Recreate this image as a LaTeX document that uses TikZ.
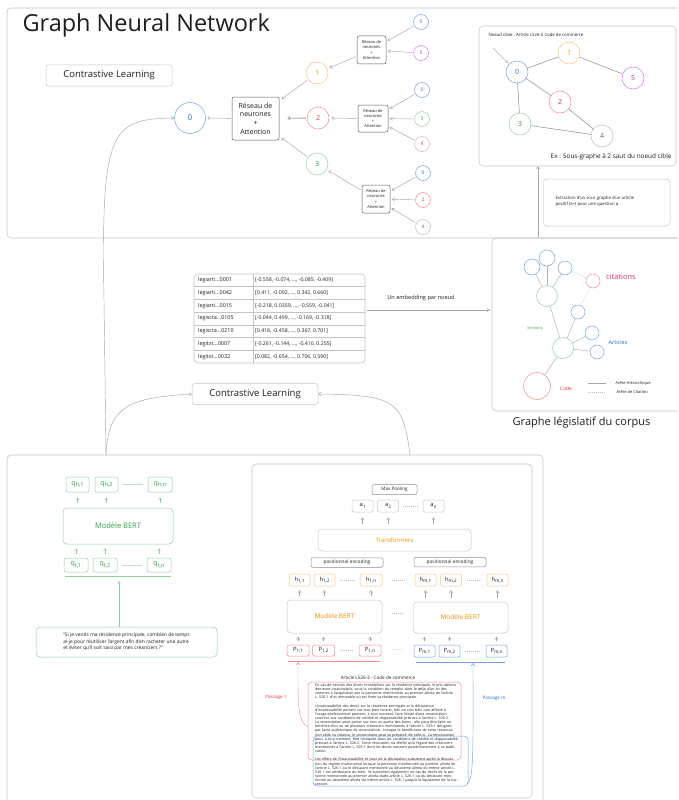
\documentclass[tikz,border=0pt]{standalone}
\usepackage{fontspec}
\usepackage{graphicx}
\setmainfont{Open Sans}
\usetikzlibrary{arrows.meta,calc}
\definecolor{cblue}{HTML}{1971C2}
\definecolor{cblueL}{HTML}{6FA3E0}
\definecolor{corange}{HTML}{F08C00}
\definecolor{corangeL}{HTML}{FFC078}
\definecolor{cred}{HTML}{E03131}
\definecolor{credL}{HTML}{F28B8B}
\definecolor{cgreen}{HTML}{2F9E44}
\definecolor{cgreenL}{HTML}{8FD19E}
\definecolor{cpurple}{HTML}{9C36B5}
\definecolor{cpurpleL}{HTML}{C77DDB}
\definecolor{cbrown}{HTML}{846358}
\definecolor{cbrownL}{HTML}{C9B5AE}
\definecolor{cpink}{HTML}{D6336C}
\definecolor{cpinkL}{HTML}{EC8CA8}
\definecolor{cgray}{HTML}{C4C4C4}
\definecolor{ctext}{HTML}{1E1E1E}
\newcommand{\lo}[1]{\raisebox{-0.45ex}{\scalebox{0.8}{#1}}}
\newcommand{\tabrow}[3]{%
 \node[anchor=west, font=\fontsize{5.4}{6}\selectfont, inner sep=0pt] (k#1) at (198,274+12.714*#1+6.357) {#2};
 \node[anchor=west, font=\fontsize{5.2}{6}\selectfont, inner sep=0pt] (v#1) at (255,274+12.714*#1+6.357) {#3};}
\begin{document}
\begin{tikzpicture}[x=1pt,y=-1pt,
  every node/.style={text=ctext},
  frame/.style={draw=cgray, line width=0.6pt, rounded corners=4pt},
  sbox/.style={draw=cgray, line width=0.5pt, rounded corners=2pt, inner sep=0pt},
  dbox/.style={draw=black!65, line width=0.5pt, rounded corners=2pt, inner sep=0pt, align=center},
  gbox/.style={draw=cgreenL, line width=0.5pt, rounded corners=2pt, inner sep=0pt, text=cgreen},
  obox/.style={draw=corangeL, line width=0.5pt, rounded corners=2pt, inner sep=0pt, minimum width=21, minimum height=12, font=\fontsize{5.8}{6}\selectfont},
  rbox/.style={draw=credL, line width=0.5pt, rounded corners=2pt, inner sep=0pt, minimum width=22, minimum height=11, font=\fontsize{5.8}{6}\selectfont},
  bbox/.style={draw=cblueL, line width=0.5pt, rounded corners=2pt, inner sep=0pt, minimum width=21, minimum height=12, font=\fontsize{5.8}{6}\selectfont},
  abox/.style={sbox, minimum width=21, minimum height=12, font=\fontsize{5.8}{6}\selectfont},
  circ/.style={circle, draw, line width=0.5pt, inner sep=0pt},
  arr/.style={draw=black!35, line width=0.45pt, -{Straight Barb[length=2.5pt,width=3.5pt]}},
  garr/.style={draw=cgreenL, line width=0.45pt, -{Straight Barb[length=2.2pt,width=3pt]}},
  link/.style={draw=black!45, line width=0.5pt},
  dotl/.style={draw=black!25, line width=0.4pt, dash pattern=on 1pt off 1pt},
]
\clip (0,0) rectangle (678,800);
% ================= TOP FRAME =================
\draw[frame] (7,8) rectangle (720,238);
\node[anchor=west, font=\fontsize{23.5}{26}\selectfont] (title) at (19,25) {Graph Neural Network};
\node[sbox, minimum width=126, minimum height=21, font=\fontsize{9.5}{11}\selectfont] (cl1) at (109,75.5) {Contrastive Learning};

\node[circ, draw=cblueL, text=cblue, minimum size=31, font=\fontsize{8}{9}\selectfont] (n0) at (190,118) {0};
\node[dbox, minimum width=47, minimum height=43, font=\fontsize{7}{8.6}\selectfont] (r0) at (255.5,118.5) {Réseau de\\neurones\\+\\Attention};
\node[circ, draw=corangeL, text=corange, minimum size=22, font=\fontsize{7}{8}\selectfont] (n1) at (317,73) {1};
\node[circ, draw=credL, text=cred, minimum size=22, font=\fontsize{7}{8}\selectfont] (n2) at (318,118) {2};
\node[circ, draw=cgreenL, text=cgreen, minimum size=22, font=\fontsize{7}{8}\selectfont] (n3) at (317,164) {3};

\node[dbox, minimum width=29, minimum height=28, font=\fontsize{4}{5.3}\selectfont] (rA) at (371.5,50) {Réseau de\\neurones\\+\\Attention};
\node[dbox, minimum width=30, minimum height=27, font=\fontsize{4}{5.3}\selectfont] (rB) at (373,118.5) {Réseau de\\neurones\\+\\Attention};
\node[dbox, minimum width=28, minimum height=28, font=\fontsize{4}{5.3}\selectfont] (rC) at (376,199) {Réseau de\\neurones\\+\\Attention};

\tikzset{ch/.style={circ, minimum size=15, font=\fontsize{5}{6}\selectfont}}
\node[ch, draw=cblueL, text=cblue] (a0) at (421,22) {0};
\node[ch, draw=cpurpleL, text=cpurple] (a5) at (421,53) {5};
\node[ch, draw=cblueL, text=cblue] (b0) at (422,90) {0};
\node[ch, draw=cgreenL, text=cgreen] (b3) at (422,119) {3};
\node[ch, draw=cbrownL, text=cbrown] (b4) at (422,144) {4};
\node[ch, draw=cblueL, text=cblue] (c0) at (423,173) {0};
\node[ch, draw=credL, text=cred] (c2) at (423,200) {2};
\node[ch, draw=cbrownL, text=cbrown] (c4) at (423,227) {4};

\draw[arr, shorten >=1.5pt, shorten <=1pt] (r0) -- (n0);
\draw[arr, shorten >=3pt, shorten <=1pt] (n1) -- (r0);
\draw[arr, shorten >=8pt, shorten <=1pt, line width=0.8pt] (n2) -- (r0);
\draw[arr, shorten >=3pt, shorten <=1pt] (n3) -- (r0);
\draw[arr, shorten >=2pt, shorten <=1pt] (rA) -- (n1);
\draw[arr, shorten >=2pt, shorten <=1pt] (rB) -- (n2);
\draw[arr, shorten >=2pt, shorten <=1pt] (rC) -- (n3);
\foreach \c in {a0,a5}{\draw[arr, shorten >=1.5pt, shorten <=1pt] (\c) -- (rA);}
\foreach \c in {b0,b3,b4}{\draw[arr, shorten >=1.5pt, shorten <=1pt] (\c) -- (rB);}
\foreach \c in {c0,c2,c4}{\draw[arr, shorten >=1.5pt, shorten <=1pt] (\c) -- (rC);}

% ---- sub-graph box ----
\node[frame, minimum width=197, minimum height=140, inner sep=0pt] (sub) at (577.5,96) {};
\node[anchor=west, font=\fontsize{4.3}{5}\selectfont] (ncible) at (485,35) {Noeud cible : Article L526-3 Code de commerce};
\tikzset{gn/.style={circ, minimum size=22, font=\fontsize{7}{8}\selectfont}}
\node[gn, draw=cblueL, text=cblue] (g0) at (517,72) {0};
\node[gn, draw=corangeL, text=corange] (g1) at (569,53) {1};
\node[gn, draw=cpurpleL, text=cpurple] (g5) at (633,78) {5};
\node[gn, draw=credL, text=cred] (g2) at (560,102) {2};
\node[gn, draw=cgreenL, text=cgreen] (g3) at (520,124) {3};
\node[gn, draw=cbrownL, text=cbrown] (g4) at (602,136) {4};
\draw[link] (g0) -- (g1);
\draw[link] (g1) -- (g5);
\draw[link] (g0) -- (g2);
\draw[link] (g2) -- (g4);
\draw[link] (g0) -- (g3);
\draw[link] (g3) -- (g4);
\coordinate (ga) at (493,48);
\draw[arr, draw=cbrownL, shorten >=1pt] (ga) -- (g0);
\node[anchor=east, font=\fontsize{6.4}{8}\selectfont] (ex) at (675,157) {Ex : Sous-graphe à 2 saut du noeud cible};

\node[sbox, rounded corners=4pt, minimum width=127, minimum height=47] (extr) at (606.5,202.5) {};
\node[anchor=west, align=left, font=\fontsize{4.3}{6}\selectfont] (extrt) at (552,201) {Extraction d'un sous graphe d'un article\\positif (a+) pour une question q};

% ================= LEGISLATIVE GRAPH =================
\draw[frame] (492,238) rectangle (720,411);
\coordinate (up1) at (538,237);
\draw[arr] (up1) -- (up1 |- sub.south);
\tikzset{lc/.style={circ, inner sep=0pt}}
\node[lc, draw=cblueL, minimum size=16] (lb1) at (532,267) {};
\node[lc, draw=cblueL, minimum size=16] (lb2) at (547,258) {};
\node[lc, draw=cblueL, minimum size=14] (lb3) at (565,268) {};
\node[lc, draw=cpinkL, minimum size=14] (cit) at (593,281) {};
\node[lc, draw=cgreenL, minimum size=21] (sg1) at (547,296) {};
\node[lc, draw=cblueL, minimum size=14] (la1) at (578,312) {};
\node[lc, draw=cblueL, minimum size=14] (la2) at (592,333) {};
\node[lc, draw=cgreenL, minimum size=21] (sg2) at (563,348) {};
\node[lc, draw=cblueL, minimum size=14] (la3) at (597,352) {};
\node[lc, draw=credL, minimum size=27] (code) at (537,386) {};
\draw[link, draw=black!30] (lb1) -- (sg1);
\draw[link, draw=black!30] (lb2) -- (sg1);
\draw[link, draw=black!30] (lb3) -- (sg1);
\draw[link, draw=black!30] (sg1) -- (sg2);
\draw[link, draw=black!30] (la1) -- (sg2);
\draw[link, draw=black!30] (sg2) -- (la2);
\draw[link, draw=black!30] (sg2) -- (la3);
\draw[link, draw=black!30] (sg2) -- (code);
\draw[dotl] (lb3) -- (cit);
\draw[dotl] (cit) -- (la1);
\node[text=cpink, font=\fontsize{7.5}{8}\selectfont] (citl) at (621,277) {citations};
\node[text=cgreen, font=\fontsize{4}{5}\selectfont] (secl) at (535,328) {Sections};
\node[text=cblue, font=\fontsize{5.5}{6}\selectfont] (artl) at (618,342) {Articles};
\node[text=cred, font=\fontsize{5}{6}\selectfont] (codel) at (566,389) {Code};
\coordinate (lg1a) at (588,383); \coordinate (lg1b) at (606,383);
\coordinate (lg2a) at (588,392); \coordinate (lg2b) at (606,392);
\draw[link, draw=black!35] (lg1a) -- (lg1b);
\draw[dotl] (lg2a) -- (lg2b);
\node[anchor=west, font=\fontsize{4}{5}\selectfont] (lgt1) at (612,383) {Arête Hiérarchique};
\node[anchor=west, font=\fontsize{4}{5}\selectfont] (lgt2) at (613,392) {Arête de Citation};
\node[font=\fontsize{11}{13}\selectfont] (gtitle) at (581.5,423) {Graphe législatif du corpus};

% ================= TABLE =================
\node[frame, minimum width=171, minimum height=89, inner sep=0pt] (tbl) at (279.5,318.5) {};
\draw[draw=cgray, line width=0.5pt] (253,274) -- (253,363);
\foreach \i in {1,2,3,4,5,6}{\draw[draw=cgray, line width=0.5pt] (194,274+12.714*\i) -- (365,274+12.714*\i);}
\tabrow{0}{legiarti...0001}{[-0.558, -0.074, ..., -0.085, -0.409]}
\tabrow{1}{legiarti...0042}{[0.411, -0.092, ..., 0.342, 0.660]}
\tabrow{2}{legiarti...0015}{[-0.218, 0.0359, ..., -0.559, -0.041]}
\tabrow{3}{legiscta...0105}{[-0.044, 0.499, ..., -0.169, -0.318]}
\tabrow{4}{legiscta...0210}{[0.418, -0.458, ..., 0.367, 0.701]}
\tabrow{5}{legitxt...0007}{[-0.261, -0.144, ..., -0.410, 0.255]}
\tabrow{6}{legitxt...0032}{[0.082, -0.654, ..., 0.706, 0.590]}
\node[font=\fontsize{5.6}{6}\selectfont] (emb) at (421,298) {Un embedding par noeud};
\coordinate (ea) at (367,310); \coordinate (eb) at (490,310);
\draw[arr] (ea) -- (eb);

\node[sbox, rounded corners=3pt, minimum width=126, minimum height=21, font=\fontsize{9.5}{11}\selectfont] (cl2) at (255,394) {Contrastive Learning};

% ================= BOTTOM FRAMES =================
\draw[frame] (7,455) rectangle (543,830);
\draw[frame] (252,464) rectangle (532,798);
\coordinate (s1) at (106,455);
\coordinate (s2) at (410,455);
\draw[arr] (s1) -- (104,300) .. controls (101,130) and (110,119) .. (n0.west);
\draw[arr] (s1) .. controls (108,405) and (130,398) .. (cl2.west);
\draw[arr] (s2) .. controls (403,400) and (395,395) .. (cl2.east);

% ---- query encoder (green) ----
\node[gbox, minimum width=23, minimum height=15, font=\fontsize{7}{7}\selectfont] (qh1) at (77.5,484.5) {q\lo{h,1}};
\node[gbox, minimum width=23, minimum height=15, font=\fontsize{7}{7}\selectfont] (qh2) at (106.5,484.5) {q\lo{h,2}};
\node[gbox, minimum width=24, minimum height=15, font=\fontsize{7}{7}\selectfont] (qhn) at (160,484.5) {q\lo{h,n}};
\draw[draw=cgreenL!60, line width=0.4pt] (qh2.east) ++(5,0) -- ($(qhn.west)+(-5,0)$);
\node[gbox, rounded corners=4pt, minimum width=110, minimum height=36, font=\fontsize{7.5}{8}\selectfont] (bertL) at (118,526) {Modèle BERT};
\node[gbox, minimum width=24, minimum height=14, font=\fontsize{7}{7}\selectfont] (qt1) at (76,565) {q\lo{t,1}};
\node[gbox, minimum width=24, minimum height=14, font=\fontsize{7}{7}\selectfont] (qt2) at (105,565) {q\lo{t,2}};
\node[gbox, minimum width=24, minimum height=14, font=\fontsize{7}{7}\selectfont] (qtn) at (159,565) {q\lo{t,n}};
\draw[draw=cgreenL!60, line width=0.4pt] (qt2.east) ++(5,0) -- ($(qtn.west)+(-5,0)$);
\foreach \n in {qh1,qh2,qhn}{\draw[garr, shorten <=5pt, shorten >=5pt] (bertL.north -| \n) -- (\n.south);}
\foreach \n in {qt1,qt2,qtn}{\draw[garr, shorten <=4pt, shorten >=4pt] (\n.north) -- (bertL.south -| \n);}
\coordinate (ulA) at (65,576); \coordinate (ulB) at (171,576); \coordinate (ul) at (119,576);
\draw[draw=cgreenL, line width=0.5pt] (ulA) -- (ulB);
\node[gbox, rounded corners=4pt, minimum width=181, minimum height=30, align=left, text=ctext, font=\fontsize{4.9}{6.3}\selectfont] (quote) at (126.5,642) {"Si je vends ma résidence principale, combien de temps\\ai-je pour réutiliser l'argent afin d'en racheter une autre\\et éviter qu'il soit saisi par mes créanciers ?"};
\draw[garr, shorten >=5pt] (quote.north -| ul) -- (ul);

% ---- passage encoder ----
\node[sbox, draw=black!45, minimum width=45, minimum height=10, font=\fontsize{4.6}{5}\selectfont] (mp) at (394.5,489.5) {Max Pooling};
\node[abox] (pa1) at (362.5,506) {a\lo{1}};
\node[abox] (pa2) at (388,506) {a\lo{2}};
\node[abox] (pan) at (433.5,506) {a\lo{n}};
\draw[dotl] (pa2.east) ++(4,0) -- ($(pan.west)+(-4,0)$);
\node[sbox, rounded corners=4pt, minimum width=153, minimum height=22, text=corange, font=\fontsize{6}{7}\selectfont] (tr) at (394.5,540) {Transformers};
\foreach \n in {pa1,pa2,pan}{\draw[arr, shorten <=5pt, shorten >=5pt] (tr.north -| \n) -- (\n.south);}
\node[sbox, draw=black!45, minimum width=72, minimum height=9.5, font=\fontsize{4.8}{5}\selectfont] (pe1) at (347,562.5) {positionnal encoding};
\node[sbox, draw=black!45, minimum width=72, minimum height=9.5, font=\fontsize{4.8}{5}\selectfont] (pe2) at (450,562) {positionnal encoding};

\node[obox] (h11) at (299.5,580) {h\lo{1,1}};
\node[obox] (h12) at (324.5,580) {h\lo{1,2}};
\node[obox, minimum width=22] (h1n) at (371,580) {h\lo{1,n}};
\node[obox] (hm1) at (425.5,580) {h\lo{m,1}};
\node[obox] (hm2) at (451,580) {h\lo{m,2}};
\node[obox] (hmn) at (497.5,580) {h\lo{m,n}};
\draw[dotl] (h12.east) ++(5,0) -- ($(h1n.west)+(-5,0)$);
\draw[dotl] (h1n.east) ++(10,0) -- ($(hm1.west)+(-10,0)$);
\draw[dotl] (hm2.east) ++(5,0) -- ($(hmn.west)+(-5,0)$);

\node[sbox, rounded corners=4pt, minimum width=95, minimum height=33, text=corange, font=\fontsize{6.5}{7}\selectfont] (b1) at (334.5,616.5) {Modèle BERT};
\node[sbox, rounded corners=4pt, minimum width=95, minimum height=31, text=corange, font=\fontsize{6.5}{7}\selectfont] (b2) at (460.5,617.5) {Modèle BERT};
\draw[dotl] (b1.east) ++(10,-3) -- ($(b2.west)+(-10,-4)$);
\foreach \n in {h11,h12,h1n}{\draw[arr, shorten <=4pt, shorten >=4pt] (b1.north -| \n) -- (\n.south);}
\foreach \n in {hm1,hm2,hmn}{\draw[arr, shorten <=4pt, shorten >=4pt] (b2.north -| \n) -- (\n.south);}

\node[rbox] (p11) at (298,650.5) {P\lo{1,1}};
\node[rbox] (p12) at (323.5,650.5) {P\lo{1,2}};
\node[rbox] (p1n) at (370,650.5) {P\lo{1,n}};
\node[bbox] (pm1) at (424.5,651) {P\lo{m,1}};
\node[bbox] (pm2) at (449.5,651) {P\lo{m,2}};
\node[bbox] (pmn) at (496.5,651) {P\lo{m,n}};
\draw[dotl] (p12.east) ++(5,0) -- ($(p1n.west)+(-5,0)$);
\draw[dotl] (p1n.east) ++(10,-1) -- ($(pm1.west)+(-10,-1)$);
\draw[dotl] (pm2.east) ++(5,0) -- ($(pmn.west)+(-5,0)$);
\foreach \n in {p11,p12,p1n}{\draw[arr, shorten <=3.5pt, shorten >=3.5pt] (\n.north) -- (b1.south -| \n);}
\foreach \n in {pm1,pm2,pmn}{\draw[arr, shorten <=3.5pt, shorten >=3.5pt] (\n.north) -- (b2.south -| \n);}

\coordinate (u1a) at (288,661); \coordinate (u1b) at (380,661);
\coordinate (uma) at (416,662); \coordinate (umb) at (505,662);
\draw[draw=credL, line width=0.5pt] (u1a) -- (u1b);
\draw[draw=cblueL, line width=0.5pt] (uma) -- (umb);
\coordinate (u1) at (298,662); \coordinate (um) at (473,663);

\node[font=\fontsize{4.6}{5}\selectfont] (arttitle) at (378,678) {Article L526-3 - Code de commerce};
\node[draw=credL, line width=0.5pt, rounded corners=4pt, minimum width=153, minimum height=78, inner sep=0pt] (pass1) at (384.5,721) {};
\node[draw=cblueL, line width=0.5pt, rounded corners=4pt, minimum width=155, minimum height=50, inner sep=0pt] (passm) at (390.5,761) {};
\node[anchor=north west, text width=143, inner sep=0pt, align=left, font=\fontsize{3.6}{4.15}\selectfont] (arttext) at (315,683.5) {En cas de cession des droits immobiliers sur la résidence principale, le prix obtenu demeure insaisissable, sous la condition du remploi dans le délai d'un an des sommes à l'acquisition par la personne mentionnée au premier alinéa de l'article L. 526-1 d'un immeuble où est fixée sa résidence principale.\par\vspace{4pt}
L'insaisissabilité des droits sur la résidence principale et la déclaration d'insaisissabilité portant sur tout bien foncier, bâti ou non bâti, non affecté à l'usage professionnel peuvent, à tout moment, faire l'objet d'une renonciation soumise aux conditions de validité et d'opposabilité prévues à l'article L. 526-2. La renonciation peut porter sur tout ou partie des biens ; elle peut être faite au bénéfice d'un ou de plusieurs créanciers mentionnés à l'article L. 526-1 désignés par l'acte authentique de renonciation. Lorsque le bénéficiaire de cette renonciation cède sa créance, le cessionnaire peut se prévaloir de celle-ci. La renonciation peut, à tout moment, être révoquée dans les conditions de validité et d'opposabilité prévues à l'article L. 526-2. Cette révocation n'a d'effet qu'à l'égard des créanciers mentionnés à l'article L. 526-1 dont les droits naissent postérieurement à sa publication.\par\vspace{4pt}
Les effets de l'insaisissabilité et ceux de la déclaration subsistent après la dissolution du régime matrimonial lorsque la personne mentionnée au premier alinéa de l'article L. 526-1 ou le déclarant mentionné au deuxième alinéa du même article L. 526-1 est attributaire du bien. Ils subsistent également en cas de décès de la personne mentionnée au premier alinéa dudit article L. 526-1 ou du déclarant mentionné au deuxième alinéa du même article L. 526-1 jusqu'à la liquidation de la succession.};

\coordinate (r1s) at (308,727);
\coordinate (bms) at (468,783);
\draw[arr, draw=credL] (r1s) .. controls (297,722) and (298,700) .. (u1);
\draw[arr, draw=cblueL] (bms) .. controls (474,778) and (473,740) .. (um);
\node[text=cred, font=\fontsize{4.6}{5}\selectfont] (ps1) at (276,697) {Passage 1};
\node[text=cblue, font=\fontsize{4.6}{5}\selectfont] (psm) at (494,698) {Passage m};
\end{tikzpicture}
\end{document}
